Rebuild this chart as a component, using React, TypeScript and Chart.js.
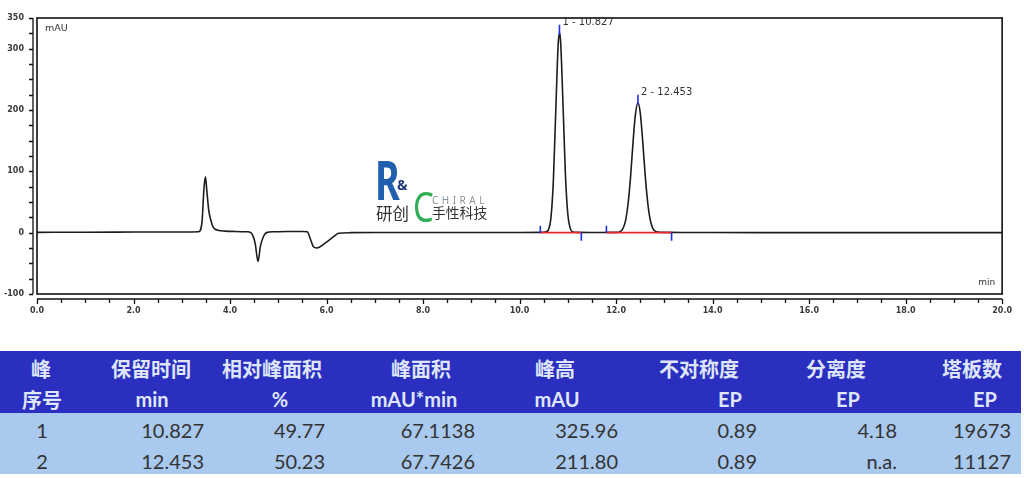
import React, { useEffect, useRef } from 'react';
import { Chart, registerables } from 'chart.js';

Chart.register(...registerables);

// ---- chromatogram signal ----
const timeMin = [
  0, 1, 2, 3, 3.35, 3.42, 3.46, 3.49, 3.52, 3.56,
  3.6, 3.65, 3.75, 3.9, 4.1, 4.35, 4.43, 4.52, 4.58, 4.63,
  4.7, 4.77, 4.9, 5.2, 5.5, 5.6, 5.66, 5.73, 5.8, 5.97,
  6.14, 6.25, 6.5, 7, 8, 9, 10, 10.45, 10.55, 10.6,
  10.65, 10.7, 10.75, 10.8, 10.827, 10.85, 10.9, 10.95, 11.0, 11.05,
  11.1, 11.2, 11.5, 11.8, 11.95, 12.05, 12.1, 12.15, 12.2, 12.25,
  12.3, 12.35, 12.4, 12.453, 12.5, 12.55, 12.6, 12.65, 12.7, 12.75,
  12.8, 12.9, 13.1, 13.5, 14, 15, 16, 17, 18, 19,
  20,
];
const signalMAU = [
  0.5, 0.8, 1.0, 1.2, 1.5, 18, 72, 91, 68, 36,
  21, 9, 4, 2.5, 2, 1.5, 0, -17, -47, -22,
  -5, 0.5, 1.5, 2, 2, 1.5, -9, -23, -25, -17,
  -7, -1, 0, 0.3, 0.2, 0.2, 0.3, 0.5, 1.5, 5,
  24, 84, 198, 307, 325.96, 312, 210, 95, 30, 7,
  1.5, 0.5, 0.3, 0.4, 0.5, 0.8, 2.5, 8, 21, 48,
  91, 146, 192, 211.8, 196, 151, 97, 53, 24, 9,
  3, 0.8, 0.4, 0.3, 0.2, 0.1, 0.1, 0.1, 0, 0,
  0,
];

// ---- peaks ----
const peakLabels = ['1 - 10.827', '2 - 12.453'];
const peakTimes = [10.827, 12.453];
const peakHeights = [325.96, 211.8];
const baseStartTimes = [10.43, 11.8];
const baseEndTimes = [11.28, 13.15];

// ---- axes ----
const xMin = 0;
const xMax = 20;
const yMin = -100;
const yMax = 350;
const xTickValues = [
  0, 0.5, 1, 1.5, 2, 2.5, 3, 3.5, 4, 4.5, 5, 5.5, 6, 6.5, 7, 7.5, 8, 8.5, 9, 9.5,
  10, 10.5, 11, 11.5, 12, 12.5, 13, 13.5, 14, 14.5, 15, 15.5, 16, 16.5, 17, 17.5,
  18, 18.5, 19, 19.5, 20,
];
const xLabelValues = [0, 2, 4, 6, 8, 10, 12, 14, 16, 18, 20];
const yTickValues = [
  -100, -75, -50, -25, 0, 25, 50, 75, 100, 125, 150, 175, 200, 225, 250, 275, 300, 325, 350,
];
const yLabelValues = [-100, 0, 100, 200, 300, 350];
const xUnit = 'min';
const yUnit = 'mAU';

// ---- table ----
const tableHeader1 = ['峰', '保留时间', '相对峰面积', '峰面积', '峰高', '不对称度', '分离度', '塔板数'];
const tableHeader2 = ['序号', 'min', '%', 'mAU*min', 'mAU', 'EP', 'EP', 'EP'];
const peakRow1 = ['1', '10.827', '49.77', '67.1138', '325.96', '0.89', '4.18', '19673'];
const peakRow2 = ['2', '12.453', '50.23', '67.7426', '211.80', '0.89', 'n.a.', '11127'];

// layout of table cells (pixels)
const header1X = [41, 151, 272, 421, 555, 699, 836, 972];
const header2X = [42, 152, 280, 414, 557, 730, 848, 985];
const cellRight = [0, 204, 325, 475, 618, 757, 897, 1011];

const smallFont = '"DejaVu Sans", sans-serif';

const overlayPlugin = {
  id: 'overlay',
  afterDatasetsDraw(chart: any) {
    const { ctx, chartArea, scales } = chart;
    const xs = scales.x;
    const ys = scales.y;
    const { left, right, top, bottom } = chartArea;
    ctx.save();
    // frame
    ctx.strokeStyle = '#111';
    ctx.lineWidth = 1.6;
    ctx.strokeRect(left, top, right - left, bottom - top);

    // y axis line + ticks
    const ax = left - 4;
    ctx.lineWidth = 1.3;
    ctx.beginPath();
    ctx.moveTo(ax, ys.getPixelForValue(yMax));
    ctx.lineTo(ax, ys.getPixelForValue(yMin));
    ys.ticks.forEach((t: any) => {
      const py = Math.round(ys.getPixelForValue(t.value)) + 0.5;
      ctx.moveTo(ax, py);
      ctx.lineTo(ax - 4, py);
    });
    ctx.stroke();

    // x axis line + ticks
    const ay = bottom + 5;
    ctx.beginPath();
    ctx.moveTo(xs.getPixelForValue(xMin), ay);
    ctx.lineTo(xs.getPixelForValue(xMax), ay);
    xs.ticks.forEach((t: any) => {
      const px = Math.round(xs.getPixelForValue(t.value)) + 0.5;
      const major = xLabelValues.includes(t.value);
      ctx.moveTo(px, ay);
      ctx.lineTo(px, ay + (major ? 5 : 4));
    });
    ctx.stroke();

    // unit labels
    ctx.fillStyle = '#333';
    ctx.textBaseline = 'middle';
    ctx.textAlign = 'left';
    ctx.font = '9.5px ' + smallFont;
    ctx.fillText(yUnit, left + 8, top + 11);
    ctx.textAlign = 'right';
    ctx.font = '9px ' + smallFont;
    ctx.fillText(xUnit, right - 7, bottom - 11);

    // integration markers
    const by = ys.getPixelForValue(0);
    ctx.strokeStyle = '#1f2fe0';
    ctx.lineWidth = 1.6;
    ctx.beginPath();
    for (let i = 0; i < baseStartTimes.length; i++) {
      const sx = xs.getPixelForValue(baseStartTimes[i]);
      const ex = xs.getPixelForValue(baseEndTimes[i]);
      ctx.moveTo(sx, by - 7);
      ctx.lineTo(sx, by);
      ctx.moveTo(ex, by);
      ctx.lineTo(ex, by + 8);
    }
    for (let i = 0; i < peakTimes.length; i++) {
      const px = xs.getPixelForValue(peakTimes[i]);
      const py = ys.getPixelForValue(peakHeights[i]);
      ctx.moveTo(px, py + 2);
      ctx.lineTo(px, py - 8);
    }
    ctx.stroke();

    // peak labels
    ctx.fillStyle = '#333';
    ctx.font = '10px ' + smallFont;
    ctx.textAlign = 'left';
    ctx.textBaseline = 'middle';
    for (let i = 0; i < peakTimes.length; i++) {
      const px = xs.getPixelForValue(peakTimes[i]);
      const py = ys.getPixelForValue(peakHeights[i]);
      ctx.fillText(peakLabels[i], px + 3, py - 10);
    }
    ctx.restore();
  },
};

function ChromChart() {
  const ref = useRef<HTMLCanvasElement | null>(null);
  useEffect(() => {
    if (!ref.current) return;
    const signal = timeMin.map((t, i) => ({ x: t, y: signalMAU[i] }));
    const baselineSets = baseStartTimes.map((s, i) => ({
      data: [
        { x: s, y: 0 },
        { x: baseEndTimes[i], y: 0 },
      ],
      borderColor: '#e8282a',
      borderWidth: 1.6,
      pointRadius: 0,
      tension: 0,
    }));
    const chart = new Chart(ref.current, {
      type: 'line',
      data: {
        datasets: [
          ...baselineSets,
          {
            data: signal,
            borderColor: '#1c1c1c',
            borderWidth: 1.6,
            pointRadius: 0,
            cubicInterpolationMode: 'monotone',
          },
        ],
      } as any,
      options: {
        animation: false,
        responsive: true,
        maintainAspectRatio: false,
        parsing: false,
        layout: { padding: { top: 18, right: 17, bottom: 0, left: 0 } },
        plugins: { legend: { display: false }, tooltip: { enabled: false } },
        scales: {
          x: {
            type: 'linear',
            min: xMin,
            max: xMax,
            afterBuildTicks: (s: any) => {
              s.ticks = xTickValues.map((v) => ({ value: v }));
            },
            afterFit: (s: any) => {
              s.height = 36;
            },
            grid: { display: false, drawTicks: false },
            border: { display: false },
            ticks: {
              autoSkip: false,
              maxRotation: 0,
              minRotation: 0,
              padding: 12,
              color: '#3a3a3a',
              font: { family: smallFont, size: 8, weight: 'bold' },
              callback: (v: any) => (xLabelValues.includes(Number(v)) ? Number(v).toFixed(1) : ''),
            },
          },
          y: {
            type: 'linear',
            min: yMin,
            max: yMax,
            afterBuildTicks: (s: any) => {
              s.ticks = yTickValues.map((v) => ({ value: v }));
            },
            afterFit: (s: any) => {
              s.width = 37;
            },
            grid: { display: false, drawTicks: false },
            border: { display: false },
            ticks: {
              autoSkip: false,
              padding: 13,
              color: '#3a3a3a',
              font: { family: smallFont, size: 8, weight: 'bold' },
              callback: (v: any) => (yLabelValues.includes(Number(v)) ? String(v) : ''),
            },
          },
        },
      } as any,
      plugins: [overlayPlugin],
    });
    return () => chart.destroy();
  }, []);
  return (
    <div style={{ position: 'absolute', left: 0, top: 0, width: 1024, height: 330 }}>
      <canvas ref={ref} />
    </div>
  );
}

function Logo() {
  const base: React.CSSProperties = { position: 'absolute', lineHeight: 1, whiteSpace: 'nowrap' };
  return (
    <div style={{ position: 'absolute', left: 0, top: 0, width: 1024, height: 330, pointerEvents: 'none' }}>
      <div
        style={{
          ...base,
          left: 375,
          top: 152,
          fontSize: 54,
          fontWeight: 700,
          fontFamily: '"Noto Sans", sans-serif',
          color: '#1f5fae',
          transform: 'scaleX(0.7)',
          transformOrigin: 'left top',
        }}
      >
        R
      </div>
      <div style={{ ...base, left: 397, top: 178, fontSize: 14, fontWeight: 700, fontFamily: '"Noto Sans", sans-serif', color: '#1c3a78' }}>
        &amp;
      </div>
      <div
        style={{
          ...base,
          left: 413,
          top: 186,
          fontSize: 41,
          fontFamily: '"Noto Sans", sans-serif',
          color: '#2fae55',
          transform: 'scaleX(0.8)',
          transformOrigin: 'left top',
        }}
      >
        C
      </div>
      <div style={{ ...base, left: 432, top: 195, fontSize: 10, letterSpacing: 3.5, fontFamily: '"Noto Sans", sans-serif', color: '#8794a0' }}>
        CHIRAL
      </div>
      <div style={{ ...base, left: 376, top: 205, fontSize: 16.5, fontFamily: '"Noto Sans CJK SC", sans-serif', color: '#333' }}>
        研创
      </div>
      <div style={{ ...base, left: 432, top: 206, fontSize: 13.8, fontFamily: '"Noto Sans CJK SC", sans-serif', color: '#333' }}>
        手性科技
      </div>
    </div>
  );
}

function ResultTable() {
  const font = 'Lato, "Noto Sans CJK SC", sans-serif';
  const headTop = 351;
  const headBottom = 413;
  const row1Y = 430;
  const row2Y = 461;
  const centered = (txt: string, x: number, y: number, key: string, extra: React.CSSProperties) => (
    <div
      key={key}
      style={{ position: 'absolute', left: x, top: y, transform: 'translate(-50%, -50%)', whiteSpace: 'nowrap', ...extra }}
    >
      {txt}
    </div>
  );
  const rightAligned = (txt: string, r: number, y: number, key: string, extra: React.CSSProperties) => (
    <div
      key={key}
      style={{ position: 'absolute', right: 1024 - r, top: y, transform: 'translateY(-50%)', whiteSpace: 'nowrap', ...extra }}
    >
      {txt}
    </div>
  );
  const headStyle: React.CSSProperties = { color: '#dfe6fa', fontWeight: 700, fontSize: 20, fontFamily: font };
  const cellStyle: React.CSSProperties = { color: '#333', fontSize: 20, fontFamily: font };
  return (
    <div style={{ position: 'absolute', left: 0, top: 0, width: 1024, height: 478 }}>
      <div style={{ position: 'absolute', left: 0, top: headTop, width: 1021, height: headBottom - headTop, background: '#2a2fbf' }} />
      <div style={{ position: 'absolute', left: 0, top: headBottom, width: 1021, height: 61, background: '#a9c9ee' }} />
      {tableHeader1.map((t, i) => centered(t, header1X[i], 368, 'h1' + i, headStyle))}
      {tableHeader2.map((t, i) => centered(t, header2X[i], 399, 'h2' + i, headStyle))}
      {[peakRow1, peakRow2].map((row, ri) =>
        row.map((t, i) =>
          i === 0
            ? centered(t, 42, ri === 0 ? row1Y : row2Y, 'r' + ri + i, cellStyle)
            : rightAligned(t, cellRight[i], ri === 0 ? row1Y : row2Y, 'r' + ri + i, cellStyle)
        )
      )}
    </div>
  );
}

export default function App() {
  useEffect(() => {
    document.body.style.margin = '0';
    document.body.style.background = '#fff';
  }, []);
  return (
    <div style={{ position: 'relative', width: 1024, height: 478, overflow: 'hidden', background: '#fff' }}>
      <ResultTable />
      <ChromChart />
      <Logo />
    </div>
  );
}
